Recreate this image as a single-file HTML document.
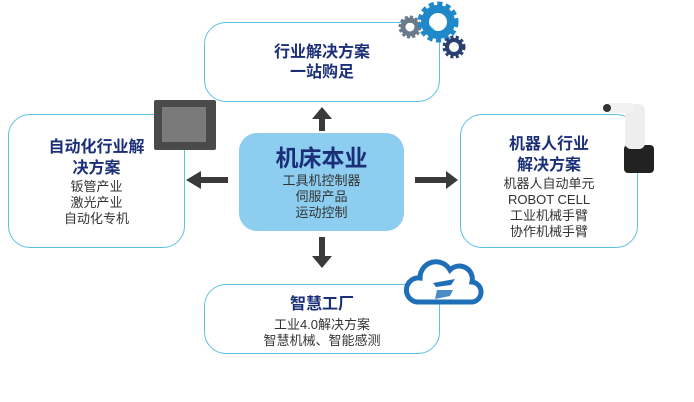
<!DOCTYPE html>
<html><head><meta charset="utf-8"><style>
html,body{margin:0;padding:0;background:#fff;}
body{width:694px;height:402px;overflow:hidden;position:relative;font-family:"Liberation Sans","Noto Sans CJK SC",sans-serif;}
.box{position:absolute;border:1.5px solid #5cc0e0;border-radius:22px;background:#fff;box-sizing:border-box;}
.t{position:absolute;left:0;width:100%;text-align:center;white-space:nowrap;}
.h{font-weight:bold;color:#1b2f78;font-size:16px;}
.s{color:#333;font-size:13px;}
</style></head><body>
<div class="box" style="left:204px;top:22px;width:236px;height:80px;">
 <div class="t h" style="top:20px;line-height:20px;">行业解决方案<br>一站购足</div>
</div>
<div class="box" style="left:8px;top:114px;width:177px;height:134px;">
 <div class="t h" style="top:22px;line-height:21px;">自动化行业解<br>决方案</div>
 <div class="t s" style="top:64px;line-height:16px;">钣管产业<br>激光产业<br>自动化专机</div>
</div>
<div class="box" style="left:460px;top:114px;width:178px;height:134px;">
 <div class="t h" style="top:19px;line-height:21px;">机器人行业<br>解决方案</div>
 <div class="t s" style="top:61px;line-height:16px;">机器人自动单元<br>ROBOT CELL<br>工业机械手臂<br>协作机械手臂</div>
</div>
<div class="box" style="left:204px;top:284px;width:236px;height:70px;">
 <div class="t h" style="top:10px;line-height:20px;">智慧工厂</div>
 <div class="t s" style="top:32px;line-height:16px;">工业4.0解决方案<br>智慧机械、智能感测</div>
</div>
<div style="position:absolute;left:239px;top:133px;width:165px;height:98px;background:#8ccdf0;border-radius:18px;">
 <div class="t" style="top:11px;font-size:23px;font-weight:bold;color:#1b2f78;line-height:28px;">机床本业</div>
 <div class="t s" style="top:40px;line-height:16px;">工具机控制器<br>伺服产品<br>运动控制</div>
</div>
<svg width="694" height="402" style="position:absolute;left:0;top:0" xmlns="http://www.w3.org/2000/svg">
 <g fill="#3a3a3a">
  <rect x="319" y="118" width="6" height="13"/><polygon points="312,119 332,119 322,107"/>
  <rect x="319" y="237" width="6" height="20"/><polygon points="312,256 332,256 322,268"/>
  <rect x="200" y="177" width="28" height="6"/><polygon points="201,171 201,189 186,180"/>
  <rect x="415" y="177" width="32" height="6"/><polygon points="446,171 446,189 458,180"/>
 </g>
 <!-- monitor -->
 <rect x="154" y="100" width="62" height="50" fill="#4a4a4a" rx="2"/>
 <rect x="162" y="107" width="44" height="35" fill="#7a7a7a"/>
 <!-- robot -->
 <rect x="624" y="145" width="30" height="28" fill="#222" rx="4"/>
 <rect x="625" y="104" width="20" height="45" fill="#eee" rx="6"/>
 <rect x="606" y="103" width="28" height="10" fill="#f2f2f2" rx="3"/>
 <circle cx="607" cy="108" r="4" fill="#333"/>
 <!-- gears -->
 <g fill="none">
  <circle cx="410" cy="27" r="7" stroke="#6a7a8a" stroke-width="5"/>
  <circle cx="410" cy="27" r="10" stroke="#6a7a8a" stroke-width="3" stroke-dasharray="3 2.2"/>
  <circle cx="438" cy="22" r="13" stroke="#1e88c8" stroke-width="8"/>
  <circle cx="438" cy="22" r="18" stroke="#1e88c8" stroke-width="5" stroke-dasharray="5 3.4"/>
  <circle cx="454" cy="47" r="7" stroke="#2a3f70" stroke-width="4"/>
  <circle cx="454" cy="47" r="10" stroke="#2a3f70" stroke-width="3" stroke-dasharray="3 2.4"/>
 </g>
 <!-- cloud -->
 <path d="M417,302 h53 a10,10 0 0 0 2,-20 a13,13 0 0 0 -22,-12 a16,16 0 0 0 -30,8 a12,12 0 0 0 -3,24 z" fill="#fff" stroke="#1e6fb8" stroke-width="5"/>
 <polygon points="433,283 455,279 451,285 436,287" fill="#1e6fb8"/>
 <polygon points="437,290 453,290 450,296 435,299" fill="#1e6fb8" opacity="0.8"/>
</svg>
</body></html>
